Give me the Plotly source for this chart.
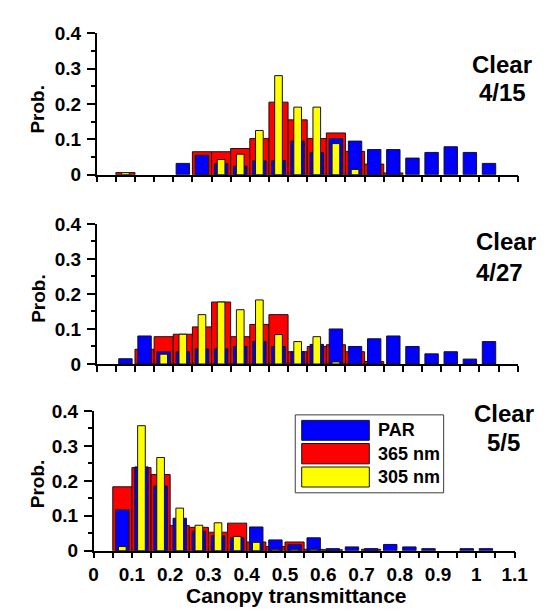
import plotly.graph_objects as go

# bin centres (bin width 0.05)
bin_centers = [round(0.025 + 0.05 * k, 3) for k in range(21)]
x_tick_vals = [0, 0.1, 0.2, 0.3, 0.4, 0.5, 0.6, 0.7, 0.8, 0.9, 1.0, 1.1]
x_tick_text = ["0", "0.1", "0.2", "0.3", "0.4", "0.5", "0.6", "0.7", "0.8", "0.9", "1", "1.1"]
y_tick_vals = [0, 0.1, 0.2, 0.3, 0.4]
y_tick_text = ["0", "0.1", "0.2", "0.3", "0.4"]

# Panel 1 : Clear 4/15
par_415 = [0, 0, 0, 0, 0.032, 0.055, 0.031, 0.024, 0.039, 0.040, 0.095, 0.063, 0.102, 0.095, 0.071, 0.071, 0.047, 0.063, 0.079, 0.063, 0.032]
uv365_415 = [0, 0.006, 0, 0, 0, 0.065, 0.065, 0.074, 0.102, 0.205, 0.155, 0.102, 0.118, 0.066, 0.030, 0.005, 0, 0, 0, 0, 0]
uv305_415 = [0, 0.006, 0, 0, 0, 0, 0.043, 0.058, 0.125, 0.280, 0.191, 0.191, 0.088, 0.015, 0, 0, 0, 0, 0, 0, 0]

# Panel 2 : Clear 4/27
par_427 = [0, 0.015, 0.080, 0.035, 0.035, 0.043, 0.043, 0.050, 0.064, 0.050, 0.035, 0.056, 0.100, 0.050, 0.072, 0.080, 0.050, 0.029, 0.035, 0.014, 0.064]
uv365_427 = [0, 0, 0.042, 0.078, 0.085, 0.106, 0.177, 0.078, 0.113, 0.141, 0.035, 0.050, 0.055, 0.035, 0.007, 0, 0, 0, 0, 0, 0]
uv305_427 = [0, 0, 0, 0.028, 0.085, 0.141, 0.177, 0.155, 0.183, 0.084, 0.064, 0.078, 0.006, 0, 0, 0, 0, 0, 0, 0, 0]

# Panel 3 : Clear 5/5
par_55 = [0, 0.117, 0.240, 0.185, 0.093, 0.056, 0.043, 0.037, 0.068, 0.031, 0.017, 0.037, 0.006, 0.011, 0.006, 0.018, 0.011, 0.006, 0, 0.006, 0.006]
uv365_55 = [0, 0.183, 0.238, 0.218, 0.072, 0.067, 0.053, 0.079, 0.025, 0.012, 0.025, 0.004, 0.003, 0, 0.004, 0, 0, 0, 0, 0, 0]
uv305_55 = [0, 0.012, 0.358, 0.267, 0.122, 0.073, 0.080, 0.041, 0.024, 0.004, 0.004, 0.004, 0, 0, 0, 0, 0, 0, 0, 0, 0]

panel_labels = [("Clear", "4/15"), ("Clear", "4/27"), ("Clear", "5/5")]
series_names = ["PAR", "365 nm", "305 nm"]
series_colors = ["#0000FF", "#FF0000", "#FFFF00"]

W, H = 552, 611
FONT = "Liberation Sans, Arial, sans-serif"


def px(x):
    return x / W


def py(y):
    return 1 - y / H


def nz(vals):
    return [v if v > 0 else None for v in vals]


# pixel geometry of each panel: (x0, x1, ytop(0.4), ybottom(0))
panels = [
    (86.7, 522.7, 15.7, 162.3),
    (86.7, 522.7, 213.3, 358.3),
    (83.5, 519.5, 407.0, 551.7),
]

data = [
    (par_415, uv365_415, uv305_415),
    (par_427, uv365_427, uv305_427),
    (par_55, uv365_55, uv305_55),
]

fig = go.Figure()
line = dict(color="rgb(20,20,20)", width=1)

for i, (par, u365, u305) in enumerate(data):
    xa = "x" if i == 0 else f"x{i+1}"
    ya = "y" if i == 0 else f"y{i+1}"
    fig.add_trace(go.Bar(x=bin_centers, y=nz(u365), width=0.05, name=series_names[1],
                         marker=dict(color=series_colors[1], line=line),
                         xaxis=xa, yaxis=ya, showlegend=False))
    fig.add_trace(go.Bar(x=bin_centers, y=nz(par), width=0.035, name=series_names[0],
                         marker=dict(color=series_colors[0], line=line),
                         xaxis=xa, yaxis=ya, showlegend=False))
    fig.add_trace(go.Bar(x=bin_centers, y=nz(u305), width=0.02, name=series_names[2],
                         marker=dict(color=series_colors[2], line=line),
                         xaxis=xa, yaxis=ya, showlegend=False))

layout = dict(
    width=W, height=H, margin=dict(l=0, r=0, t=0, b=0),
    paper_bgcolor="white", plot_bgcolor="white",
    barmode="overlay", showlegend=False,
    font=dict(family=FONT, color="black"),
)

tickfont = dict(family=FONT, size=19, color="black", weight="bold")
for i, (x0, x1, yt, yb) in enumerate(panels):
    xk = "xaxis" if i == 0 else f"xaxis{i+1}"
    yk = "yaxis" if i == 0 else f"yaxis{i+1}"
    anchor_y = "y" if i == 0 else f"y{i+1}"
    anchor_x = "x" if i == 0 else f"x{i+1}"
    layout[xk] = dict(
        domain=[px(x0), px(x1)], anchor=anchor_y, range=[0, 1.1],
        showline=True, linecolor="black", linewidth=1.5, mirror=False,
        showgrid=False, zeroline=False,
        ticks="outside", ticklen=6, tickwidth=1.5, tickcolor="black",
        tickvals=x_tick_vals, ticktext=[f"<b>{t}</b>" for t in x_tick_text],
        showticklabels=(i == 2), tickfont=tickfont,
        minor=dict(dtick=0.05, tick0=0, ticks="outside", ticklen=6, tickwidth=1.5, tickcolor="black"),
        fixedrange=True,
    )
    layout[yk] = dict(
        domain=[py(yb), py(yt)], anchor=anchor_x, range=[0, 0.4],
        showline=True, linecolor="black", linewidth=1.5,
        showgrid=False, zeroline=False,
        ticks="outside", ticklen=8, tickwidth=1.5, tickcolor="black",
        tickvals=y_tick_vals, ticktext=[f"<b>{t}</b>" for t in y_tick_text], tickfont=tickfont,
        ticklabelstandoff=2,
        minor=dict(dtick=0.05, tick0=0, ticks="outside", ticklen=4, tickwidth=1.5, tickcolor="black"),
        fixedrange=True,
    )

fig.update_layout(**layout)

annotations = []
shapes = []
# "Prob." labels
prob_y = [94, 290, 482]
for yc in prob_y:
    annotations.append(dict(x=px(25.7), y=py(yc), xref="paper", yref="paper",
                            text="<b>Prob.</b>", textangle=-90, showarrow=False,
                            font=dict(family=FONT, size=19, color="black"),
                            xanchor="center", yanchor="middle"))

# panel labels: (line1 pos, line2 pos, anchor)
label_pos = [((506.7, 48.3), (506.7, 77.0), "center"),
             ((477.5, 231.7), (477.5, 263.3), "left"),
             ((508, 410), (508, 440), "center")]
for (l1, l2), (p1, p2, anc) in zip(panel_labels, label_pos):
    annotations.append(dict(x=px(p1[0]), y=py(p1[1]), xref="paper", yref="paper",
                            text=f"<b>{l1}</b>", showarrow=False,
                            font=dict(family=FONT, size=24, color="black"),
                            xanchor=anc, yanchor="middle"))
    annotations.append(dict(x=px(p2[0]), y=py(p2[1]), xref="paper", yref="paper",
                            text=f"<b>{l2}</b>", showarrow=False,
                            font=dict(family=FONT, size=24, color="black"),
                            xanchor=anc, yanchor="middle"))

# x-axis title
annotations.append(dict(x=px(294), y=0, xref="paper", yref="paper",
                        text="<b>Canopy transmittance</b>", showarrow=False,
                        font=dict(family=FONT, size=21, color="black"),
                        xanchor="center", yanchor="bottom", borderpad=0))

# custom legend box
shapes.append(dict(type="rect", xref="paper", yref="paper",
                   x0=px(292.3), x1=px(446), y0=py(491.7), y1=py(411),
                   line=dict(color="rgb(60,60,60)", width=1), fillcolor="white"))
sw = [(416.7, 437.3), (440.7, 461.7), (465, 485.7)]
for (y0, y1), name, col in zip(sw, series_names, series_colors):
    shapes.append(dict(type="rect", xref="paper", yref="paper",
                       x0=px(299), x1=px(369), y0=py(y1), y1=py(y0),
                       line=dict(color="rgb(20,20,20)", width=1), fillcolor=col))
    annotations.append(dict(x=px(376), y=py((y0 + y1) / 2), xref="paper", yref="paper",
                            text=f"<b>{name}</b>", showarrow=False,
                            font=dict(family=FONT, size=18, color="black"),
                            xanchor="left", yanchor="middle"))

fig.update_layout(annotations=annotations, shapes=shapes)
fig.write_html("out.html")
